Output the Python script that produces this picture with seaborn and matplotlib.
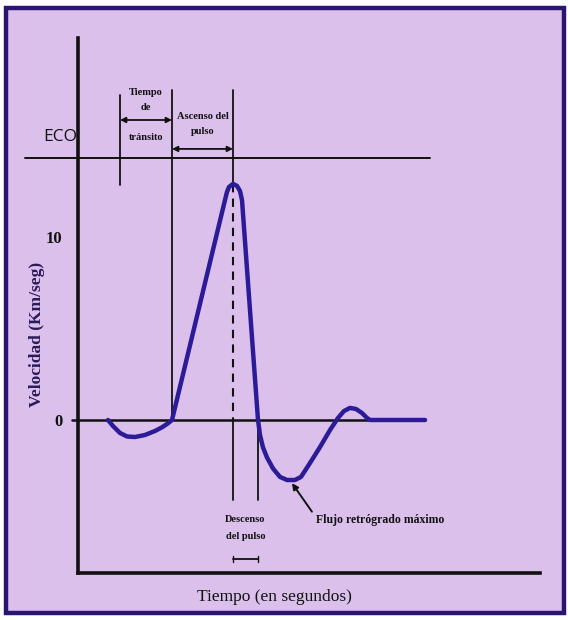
import matplotlib
matplotlib.use("Agg")
import matplotlib.pyplot as plt
import seaborn as sns
import pandas as pd
from matplotlib.patches import Rectangle

# ---- data (time in arbitrary units, velocity in Km/seg) ----
tiempo = [3.0, 3.5, 4.2, 4.9, 5.7, 6.7, 7.7, 8.4, 8.9, 9.4,
          14.7, 14.9, 15.1, 15.5, 15.9, 16.2, 16.4,
          17.2, 18.0, 18.2, 18.5, 18.9, 19.5, 20.2, 20.9, 21.7,
          22.3, 23.2, 24.2, 25.2, 26.0, 26.6, 27.2, 27.8, 28.4, 28.9, 29.2, 34.7]
velocidad = [0.0, -0.33, -0.71, -0.90, -0.93, -0.82, -0.60, -0.40, -0.22, 0.0,
             12.02, 12.46, 12.73, 12.9, 12.79, 12.51, 12.02,
             6.0, 0.0, -0.82, -1.5, -2.05, -2.65, -3.11, -3.28, -3.28,
             -3.11, -2.35, -1.48, -0.55, 0.11, 0.49, 0.66, 0.60, 0.38, 0.11, 0.0, 0.0]
nivel_eco = 14.3
eventos = [4.2, 9.4, 15.5, 18.0]          # transit start, pulse start, peak, descent end
yticks = [0, 10]
ytick_labels = ["0", "10"]

sns.set_style("white")
plt.rcParams['font.family'] = ['Liberation Serif', 'DejaVu Serif']

W, H = 568, 620
fig = plt.figure(figsize=(W / 100, H / 100), dpi=100)
fig.patch.set_facecolor("white")
lilac = "#dcc0ec"
navy = "#2a1670"
bg = fig.add_axes([0, 0, 1, 1], zorder=-5)
bg.set_axis_off()
bg.set_xlim(0, W)
bg.set_ylim(H, 0)
bg.add_patch(Rectangle((6, 8), 558, 605, facecolor=lilac, edgecolor=navy, linewidth=3.2))

ax = fig.add_axes([78 / W, 47 / H, 462 / W, 535 / H], zorder=1)
ax.set_facecolor("none")
ax.set_xlim(0, 46.2)
ax.set_ylim(-8.36, 20.87)

df = pd.DataFrame({"Tiempo": tiempo, "Velocidad": velocidad})
sns.lineplot(data=df, x="Tiempo", y="Velocidad", ax=ax, color="#2b1b96", linewidth=3.2,
             sort=False, estimator=None, zorder=5)
for ln in ax.lines:
    ln.set_solid_joinstyle("round")
    ln.set_solid_capstyle("round")

blk = "#111111"
# zero line and ECO line
ax.plot([-0.6, 34.7], [0, 0], color=blk, lw=1.8, clip_on=False, zorder=3)
ax.plot([-5.3, 35.2], [nivel_eco, nivel_eco], color=blk, lw=1.4, clip_on=False, zorder=3)
ax.text(-1.8, 15.45, "ECO", fontsize=12.5, family=["Open Sans", "DejaVu Sans"],
        ha="center", va="center", color=blk)

# vertical event lines
t0, t1, tp, t2 = eventos
ax.plot([t0, t0], [17.76, 12.84], color=blk, lw=1.3)
ax.plot([t1, t1], [18.03, 0], color=blk, lw=1.3)
ax.plot([tp, tp], [18.03, 12.9], color=blk, lw=1.3)
ax.plot([tp, tp], [12.9, 0], color=blk, lw=1.5, ls=(0, (4, 3)))
ax.plot([tp, tp], [0, -4.37], color=blk, lw=1.3)
ax.plot([t2, t2], [0, -4.37], color=blk, lw=1.3)

arrow = dict(arrowstyle="<|-|>", color=blk, lw=1.3, mutation_scale=8, shrinkA=0, shrinkB=0)
ax.annotate("", xy=(t0, 16.39), xytext=(t1, 16.39), arrowprops=arrow)
ax.annotate("", xy=(t1, 14.81), xytext=(tp, 14.81), arrowprops=arrow)

small = dict(fontsize=7.5, fontweight="bold", ha="center", va="center", color=blk)
ax.text(6.8, 17.87, "Tiempo", **small)
ax.text(6.8, 17.05, "de", **small)
ax.text(6.8, 15.46, "tránsito", **small)
ax.text(12.5, 16.56, "Ascenso del", **small)
ax.text(12.5, 15.74, "pulso", **small)
ax.text(16.75, -5.46, "Descenso", **small)
ax.text(16.75, -6.39, "del pulso", **small)

# small bracket under "Descenso del pulso"
ax.plot([tp, t2], [-7.6, -7.6], color=blk, lw=1.3)
ax.plot([tp, tp], [-7.45, -7.75], color=blk, lw=1.0)
ax.plot([t2, t2], [-7.45, -7.75], color=blk, lw=1.0)

ax.annotate("Flujo retrógrado máximo", xy=(21.4, -3.45), xytext=(23.8, -5.46),
            fontsize=8.5, fontweight="bold", ha="left", va="center", color=blk,
            arrowprops=dict(arrowstyle="-|>", color=blk, lw=1.4, mutation_scale=9,
                            shrinkA=1, shrinkB=0,
                            relpos=(0, 0.7)))

# axes styling
for s in ["top", "right"]:
    ax.spines[s].set_visible(False)
ax.spines["left"].set_linewidth(2.6)
ax.spines["bottom"].set_linewidth(2.6)
ax.spines["left"].set_color(blk)
ax.spines["bottom"].set_color(blk)
ax.set_xticks([])
ax.set_yticks(yticks)
ax.set_yticklabels(ytick_labels, fontsize=12, fontweight="bold")
ax.tick_params(axis="y", direction="out", length=5, width=1.4, pad=6, colors=blk)
ax.set_xlabel("")
ax.set_ylabel("")

fig.text(274 / W, 1 - 597 / H, "Tiempo (en segundos)", fontsize=12.5, ha="center",
         va="center", color=blk)
fig.text(37 / W, 1 - 334 / H, "Velocidad (Km/seg)", fontsize=12.5, fontweight="bold",
         rotation=90, ha="center", va="center", color="#2a1a5a")

fig.savefig("out.png", dpi=100, facecolor=fig.get_facecolor())
